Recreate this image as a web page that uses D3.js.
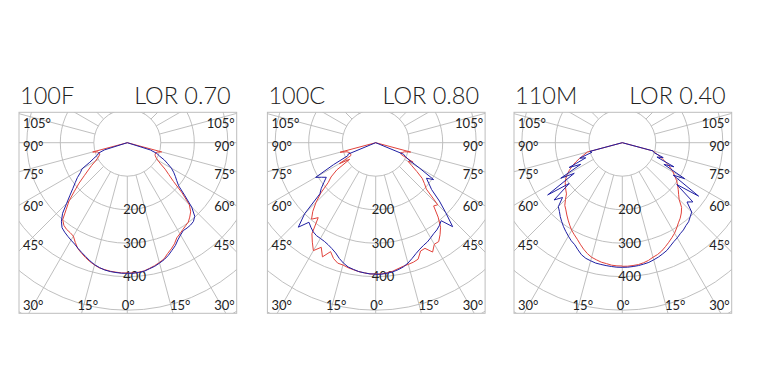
<!DOCTYPE html>
<html>
<head>
<meta charset="utf-8">
<script src="https://cdn.jsdelivr.net/npm/d3@7"></script>
<style>
  body { margin: 0; background: #fff; }
  svg { display: block; }
  text { font-family: Lato, "Open Sans", sans-serif; fill: #222; }
  .title { font-size: 23.5px; font-weight: 300; }
  .lbl { font-size: 13px; font-weight: 400; }
  .grid { fill: none; stroke: #b8b8b8; stroke-width: 0.9; }
  .frame { fill: none; stroke: #bdbdbd; stroke-width: 1; }
  .curve { fill: none; stroke-width: 1; stroke-linejoin: round; }
</style>
</head>
<body>
<svg id="chart" width="764" height="373"></svg>
<script>
// polar angles (deg from nadir) shared by every curve
var angles = [0, 2.5, 5, 7.5, 10, 12.5, 15, 17.5, 20, 22.5, 25, 27.5, 30, 32.5, 35, 37.5,
  40, 42.5, 45, 47.5, 50, 52.5, 55, 57.5, 60, 62.5, 65, 67.5, 70, 72.5, 75, 77.5, 80, 82.5, 85, 87.5, 90];

var names = ['100F', '100C', '110M'];
var lorLabels = ['LOR 0.70', 'LOR 0.80', 'LOR 0.40'];
var rings = [100, 200, 300, 400, 500, 600];
var ringLabels = [200, 300, 400];
var sideAngles = [105, 90, 75, 60, 45];
var bottomAngles = [30, 15, 0];

// cd/klm, left half (C180) and right half (C0) of each plane
var red1L = [389,389,388,387, 385,383,378,372, 365,357,349,336, 322,318,316,311, 300,270,246,214, 188,162,142,126, 110,100,93,89, 90,92,107,0, 0,0,0,0, 0];
var red1R = [389,389,388,386, 381,376,370,364, 352,343,333,320, 314,308,303,299, 290,280,262,222, 180,156,138,118, 105,97,92,90, 90,93,106,0, 0,0,0,0, 0];
var blue1L = [390,390,389,388, 386,382,377,370, 362,355,348,341, 336,331,326,320, 306,286,256,232, 212,196,182,166, 156,126,110,96, 92,72,0,0, 0,0,0,0, 0];
var blue1R = [390,390,389,387, 382,378,372,366, 358,348,339,327, 318,311,311,310, 307,298,272,232, 200,186,175,164, 152,136,122,104, 94,72,0,0, 0,0,0,0, 0];

var red2L = [392,392,390,388, 385,382,378,377, 368,352,376,352, 372,352,332,282, 298,278,252,222, 185,168,142,92, 125,84,82,82, 85,90,110,0, 0,0,0,0, 0];
var red2R = [392,392,390,387, 382,378,376,374, 370,350,348,368, 350,350,335,318, 290,256,262,205, 190,175,150,128, 112,126,85,80, 85,90,108,0, 0,0,0,0, 0];
var blue2L = [392,392,390,388, 384,380,372,362, 350,342,336,332, 330,329,325,318, 310,342,300,226, 212,195,180,192, 207,142,92,89, 0,0,0,0, 0,0,0,0, 0];
var blue2R = [393,393,391,389, 385,380,372,362, 352,344,338,334, 328,322,318,312, 304,340,296,258, 218,200,185,205, 150,112,98,90, 0,0,0,0, 0,0,0,0, 0];

var red3L = [368,368,367,364, 362,358,354,347, 338,328,318,310, 302,292,282,272, 262,254,240,226, 220,214,208,200, 190,178,165,150, 135,120,108,0, 0,0,0,0, 0];
var red3R = [369,369,368,367, 364,360,354,350, 344,336,328,320, 312,302,292,284, 274,262,240,228, 218,208,198,186, 175,162,148,132, 120,105,95,0, 0,0,0,0, 0];
var blue3L = [372,372,371,370, 369,368,365,362, 356,346,336,330, 322,314,306,297, 288,278,270,242, 266,200,272,170, 212,140,175,118, 135,95,100,0, 0,0,0,0, 0];
var blue3R = [372,372,371,370, 368,366,362,358, 353,348,340,333, 328,322,318,312, 308,300,293,262, 275,205,278,180, 215,140,170,112, 130,100,95,0, 0,0,0,0, 0];

(function() {
  var svg, r, panels, polar, drawPanel, sideDy;

  svg = d3.select('#chart');
  r = d3.scaleLinear().domain([0, 500]).range([0, 167.5]);

  panels = [
    { cx: 127.3, red: [red1L, red1R], blue: [blue1L, blue1R] },
    { cx: 375.7, red: [red2L, red2R], blue: [blue2L, blue2R] },
    { cx: 622.3, red: [red3L, red3R], blue: [blue3L, blue3R] }
  ];

  // vertical nudges of the angle labels on the side walls
  sideDy = { 105: -15, 90: 8, 75: 36, 60: 68, 45: 107 };

  polar = function(cx, cy, deg, v) {
    var a = deg * Math.PI / 180;
    return [cx + r(v) * Math.sin(a), cy + r(v) * Math.cos(a)];
  };

  drawPanel = function(p, i) {
    var cx = p.cx, cy = 142.7, left = cx - 108.3, right = cx + 109.4, top = 112.3, bottom = 313.3;
    var g = svg.append('g');
    var clipId = 'clip' + i;

    svg.append('clipPath').attr('id', clipId)
      .append('rect').attr('x', left).attr('y', top).attr('width', right - left).attr('height', bottom - top);

    var grid = g.append('g').attr('clip-path', 'url(#' + clipId + ')');
    grid.selectAll('circle').data(rings).enter().append('circle')
      .attr('class', 'grid').attr('cx', cx).attr('cy', cy).attr('r', function(d) { return r(d); });
    grid.selectAll('line').data(d3.range(0, 360, 15)).enter().append('line')
      .attr('class', 'grid')
      .attr('x1', function(d) { return polar(cx, cy, d, 100)[0]; })
      .attr('y1', function(d) { return polar(cx, cy, d, 100)[1]; })
      .attr('x2', function(d) { return polar(cx, cy, d, 800)[0]; })
      .attr('y2', function(d) { return polar(cx, cy, d, 800)[1]; });

    g.append('rect').attr('class', 'frame')
      .attr('x', left).attr('y', top).attr('width', right - left).attr('height', bottom - top);

    // side labels
    sideAngles.forEach(function(a) {
      g.append('text').attr('class', 'lbl').attr('x', left + 4).attr('y', cy + sideDy[a]).text(a + '°');
      g.append('text').attr('class', 'lbl').attr('x', right - 2).attr('y', cy + sideDy[a])
        .attr('text-anchor', 'end').text(a + '°');
    });

    // bottom labels
    var by = cy + 167.3;
    bottomAngles.forEach(function(a) {
      var dx = (bottom - cy) * Math.tan(a * Math.PI / 180);
      if (a === 30) {
        g.append('text').attr('class', 'lbl').attr('x', left + 4).attr('y', by).text(a + '°');
        g.append('text').attr('class', 'lbl').attr('x', right - 2).attr('y', by).attr('text-anchor', 'end').text(a + '°');
      } else if (a === 0) {
        g.append('text').attr('class', 'lbl').attr('x', cx - 5.5).attr('y', by).text(a + '°');
      } else {
        g.append('text').attr('class', 'lbl').attr('x', cx - dx - 4).attr('y', by).text(a + '°');
        g.append('text').attr('class', 'lbl').attr('x', cx + dx - 3).attr('y', by).text(a + '°');
      }
    });

    // ring values
    g.selectAll('.ring-label').data(ringLabels).enter().append('text')
      .attr('class', 'lbl ring-label').attr('x', cx - 4)
      .attr('y', function(d) { return cy + r(d) + 4.5; })
      .text(String);

    // curves: left half from 90° down to 0°, then right half back up to 90°
    var line = d3.line();
    var curvePoints = function(pair) {
      var pts = [], k;
      for (k = angles.length - 1; k >= 0; k--) pts.push(polar(cx, cy, -angles[k], pair[0][k]));
      for (k = 0; k < angles.length; k++) pts.push(polar(cx, cy, angles[k], pair[1][k]));
      return pts;
    };
    g.append('path').attr('class', 'curve').attr('stroke', '#e2433c').attr('d', line(curvePoints(p.red)));
    g.append('path').attr('class', 'curve').attr('stroke', '#1f1fa3').attr('d', line(curvePoints(p.blue)));

    // headings
    g.append('text').attr('class', 'title').attr('x', left + 1).attr('y', 104).text(names[i]);
    g.append('text').attr('class', 'title').attr('x', right - 6).attr('y', 104)
      .attr('text-anchor', 'end').text(lorLabels[i]);
  };

  panels.forEach(drawPanel);
})();
</script>
</body>
</html>
